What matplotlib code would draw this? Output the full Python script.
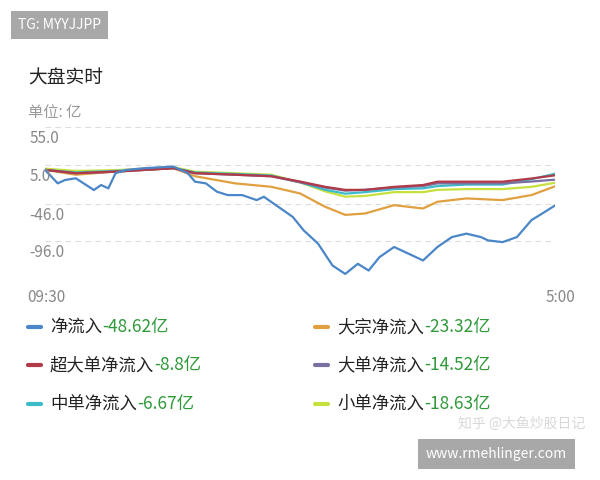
import numpy as np
import matplotlib
matplotlib.use("Agg")
import matplotlib.pyplot as plt

plt.rcParams['font.family'] = ['Noto Sans CJK SC', 'DejaVu Sans']

# minutes since 09:30
t_main = [0, 6, 9.4, 14.5, 23, 26.4, 29.8, 33.2, 38.3, 46.8, 60.4, 67.2, 70.6, 75.7, 80.9, 86,
          92.8, 99.6, 103, 109.8, 116.6, 121.7, 128.5, 135.3, 141.3, 147.2, 152.3, 157.4, 164.3,
          171.1, 177.9, 184.7, 191.5, 198.3, 205.1, 208.5, 215.3, 222.1, 228.9, 234, 240]
net_inflow = [-1.6, -19.4, -15, -12.7, -28.2, -21.6, -26, -6, -1.6, 0.6, 2.8, -6, -17.2, -19.4,
              -30.4, -34.9, -34.9, -41.5, -37.1, -50.4, -63.7, -81.4, -99, -127.9, -139, -125.6,
              -134.5, -116.8, -103.4, -112.3, -121.2, -103.4, -90.3, -85.8, -90.3, -94.7, -97,
              -90.3, -68, -59.2, -48.62]

t_sub = [0, 14.5, 33.2, 60.4, 70.6, 89.4, 106.4, 120, 131.9, 141.3, 150.6, 164.3, 177.9,
         184.7, 198.3, 215.3, 228.9, 240]
bulk = [-1.6, -8, -3.9, 0.6, -10, -19.4, -23.9, -32.7, -50.4, -61, -59.2, -48.2, -52.6, -43.7,
        -39.3, -41.5, -34.9, -23.32]
xl = [-1.6, -6, -3.9, 0.6, -6, -8, -10, -17, -24, -28, -28, -24, -21.6, -17.2, -17.2, -17.2, -13, -8.8]
large = [-1.6, -6, -3.9, 0.6, -6, -8, -10, -18, -25, -29, -28, -25, -23, -19.4, -19.4, -19.4, -17, -14.52]
medium = [-1.6, -5, -3, 1, -5, -7, -9, -18, -28, -33, -31, -27, -26, -23, -21, -21, -14, -6.67]
small = [0, -3, -2, 2, -4, -6, -8, -18, -30, -37, -36, -31, -31, -28, -27, -27, -24, -18.63]

y_ticks = [55.0, 5.0, -46.0, -96.0]
y_bottom = -147.0

series = [
    ("净流入", "-48.62亿", "#4a86c8", t_main, net_inflow),
    ("大宗净流入", "-23.32亿", "#e0a040", t_sub, bulk),
    ("超大单净流入", "-8.8亿", "#b03a48", t_sub, xl),
    ("大单净流入", "-14.52亿", "#7a6fa0", t_sub, large),
    ("中单净流入", "-6.67亿", "#3bbcc8", t_sub, medium),
    ("小单净流入", "-18.63亿", "#c8e03c", t_sub, small),
]

fig = plt.figure(figsize=(6, 4.8), dpi=100)
ax = fig.add_axes([0.075, 1 - 280 / 480, 0.85, (280 - 127) / 480])
draw_order = [1, 5, 4, 3, 2, 0]
for i in draw_order:
    name, val, col, t, v = series[i]
    ax.plot(t, v, color=col, lw=1.6)
ax.set_xlim(0, 240)
ax.set_ylim(y_bottom, 55)
for y in y_ticks + [y_bottom]:
    ax.axhline(y, color="#dddddd", lw=0.8, ls=(0, (5, 4)), zorder=0)
for s in ax.spines.values():
    s.set_visible(False)
ax.set_xticks([])
ax.set_yticks([])
for y in y_ticks:
    ax.text(-0.03, y - 4, f"{y:.1f}", transform=ax.get_yaxis_transform(), ha="left",
            va="top", fontsize=11, color="#888888")
fig.text(27 / 600, 1 - 298 / 480, "09:30", fontsize=11, color="#888888", va="center")
fig.text(575 / 600, 1 - 298 / 480, "5:00", fontsize=11, color="#888888", va="center", ha="right")

fig.text(28 / 600, 1 - 78 / 480, "大盘实时", fontsize=13.5, color="#222222", va="center")
fig.text(28 / 600, 1 - 113 / 480, "单位: 亿", fontsize=11, color="#999999", va="center")
fig.text(18 / 600, 1 - 25 / 480, "TG: MYYJJPP", fontsize=10, color="white", va="center",
         bbox=dict(boxstyle="square,pad=0.5", fc="#a8a8a8", ec="none"))
fig.text(426 / 600, 1 - 454 / 480, "www.rmehlinger.com", fontsize=10, color="white", va="center",
         bbox=dict(boxstyle="square,pad=0.6", fc="#a8a8a8", ec="none"))
fig.text(585 / 600, 1 - 424 / 480, "知乎 @大鱼炒股日记", fontsize=10, color="#d8d8d8",
         va="center", ha="right", zorder=0)

fig.canvas.draw()
r = fig.canvas.get_renderer()
rows = [327, 365, 404]
for i, (name, val, col, t, v) in enumerate(series):
    x0 = 28 if i % 2 == 0 else 315
    yy = 1 - rows[i // 2] / 480
    fig.add_artist(plt.Line2D([x0 / 600, (x0 + 13) / 600], [yy, yy], color=col, lw=3,
                              solid_capstyle="round"))
    tx = fig.text((x0 + 22) / 600, yy, name, fontsize=12.5, color="#222222", va="center")
    bb = tx.get_window_extent(r)
    fig.text(bb.x1 / 600, yy, val, fontsize=12.5, color="#2f9a3a", va="center")

fig.savefig("out.png", dpi=100)
